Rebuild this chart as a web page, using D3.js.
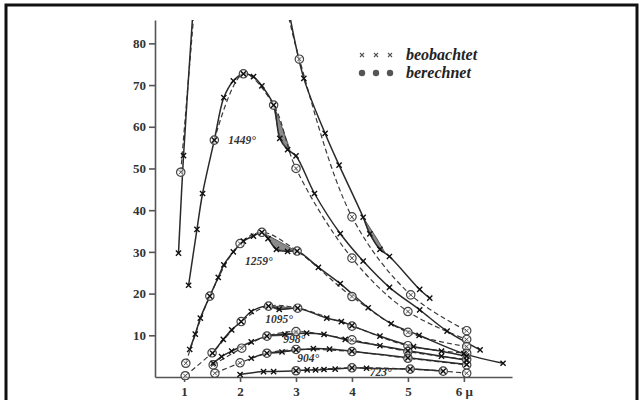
<!DOCTYPE html>
<html>
<head>
<meta charset="utf-8">
<script src="https://cdn.jsdelivr.net/npm/d3@7"></script>
<style>
  body { margin: 0; background: #fff; }
  svg { display: block; }
</style>
</head>
<body>
<div id="chart"></div>
<script>
// values: [wavelength (μ), intensity]
// beobachtet (solid lines, x marks)
var obs1646a = [[0.90, 29.7], [0.99, 53.1], [1.16, 88.0]];
var obs1646b = [[2.87, 88.0], [3.14, 71.6], [3.52, 58.4], [3.77, 50.8], [4.20, 38.3], [4.32, 34.3], [4.50, 30.6], [4.67, 28.9], [5.21, 21.0], [5.39, 18.9]];
var obs1449 = [[1.08, 22.0], [1.23, 35.4], [1.33, 44.0], [1.54, 56.8], [1.71, 67.0], [1.88, 71.0], [2.06, 72.7], [2.24, 72.0], [2.39, 69.8], [2.60, 65.2], [2.71, 57.2], [2.85, 54.5], [3.00, 53.0], [3.33, 44.0], [3.79, 34.4], [4.20, 27.8], [4.67, 21.5], [5.21, 16.1], [5.70, 11.0], [6.29, 6.5]];
var obs1259 = [[1.10, 6.6], [1.20, 10.3], [1.29, 14.1], [1.46, 19.4], [1.61, 23.9], [1.71, 26.9], [1.88, 30.0], [2.06, 32.6], [2.24, 33.8], [2.39, 34.7], [2.50, 33.2], [2.65, 30.6], [2.85, 30.1], [3.02, 30.2], [3.40, 26.3], [3.79, 22.4], [4.29, 16.6], [4.70, 12.8], [5.20, 10.0], [6.00, 5.6], [6.70, 3.3]];
var obs1095 = [[1.51, 5.7], [1.70, 9.0], [1.85, 11.3], [2.02, 13.3], [2.20, 15.7], [2.51, 17.0], [2.70, 16.2], [3.03, 16.5], [3.55, 14.1], [3.81, 13.3], [4.00, 12.3], [4.50, 9.8], [5.10, 7.3], [5.60, 6.2], [6.05, 5.0]];
var obs998 = [[1.52, 3.3], [1.67, 4.9], [1.85, 6.2], [2.20, 8.4], [2.48, 9.8], [2.80, 10.2], [3.19, 10.5], [3.50, 10.2], [3.88, 9.0], [4.50, 7.5], [5.00, 6.3], [5.60, 5.0], [6.05, 4.0]];
var obs904 = [[2.20, 4.5], [2.48, 5.7], [2.75, 6.0], [3.00, 6.5], [3.31, 6.8], [3.60, 6.7], [4.00, 6.2], [5.00, 4.6], [6.05, 3.0]];
var obs723 = [[2.00, 0.6], [2.42, 1.3], [2.60, 1.3], [3.00, 1.5], [3.20, 1.7], [3.35, 1.7], [3.50, 1.8], [3.70, 1.9], [4.00, 2.2], [4.26, 2.1], [5.04, 1.9], [5.63, 1.4]];

// berechnet (dashed lines, circles)
var calc1646a = [[0.94, 49.1], [1.18, 88.0]];
var calc1646b = [[2.84, 88.0], [3.06, 76.2], [4.00, 38.4], [5.05, 19.7], [6.05, 11.1]];
var calc1449 = [[1.54, 56.8], [2.06, 72.7], [2.60, 65.2], [3.00, 50.0], [4.00, 28.5], [5.00, 15.7], [6.05, 9.0]];
var calc1259 = [[1.03, 3.3], [1.46, 19.4], [2.00, 32.0], [2.39, 34.7], [3.02, 30.2], [4.00, 19.3], [5.00, 10.7], [6.05, 7.3]];
var calc1095 = [[1.02, 0.3], [1.50, 5.8], [2.02, 13.3], [2.51, 17.0], [3.03, 16.5], [4.00, 12.2], [5.00, 7.5], [6.05, 5.7]];
var calc998 = [[1.52, 2.9], [2.03, 6.9], [2.48, 9.8], [3.00, 10.9], [4.00, 8.9], [5.00, 6.1], [6.05, 4.2]];
var calc904 = [[1.55, 0.9], [2.00, 3.4], [2.48, 5.7], [3.00, 6.6], [4.00, 6.1], [5.00, 4.5], [6.05, 2.9]];
var calc723 = [[3.00, 1.5], [4.00, 2.2], [5.04, 1.9], [5.63, 1.4], [6.05, 0.9]];

// shaded absorption bands between the two curves
var band1646 = [[4.20, 38.3], [4.30, 34.6], [4.45, 31.4], [4.60, 29.6], [4.45, 33.1], [4.30, 36.2]];
var band1449 = [[2.60, 65.2], [2.68, 59.0], [2.75, 56.4], [2.90, 54.0], [2.85, 56.2], [2.72, 61.0]];
var band1259 = [[2.42, 34.5], [2.55, 32.2], [2.65, 30.6], [2.85, 30.1], [3.00, 30.2], [2.70, 32.5]];
var band1095 = [[2.51, 17.0], [2.70, 16.2], [2.95, 16.4], [2.75, 16.9]];
var band998 = [[2.48, 9.8], [2.70, 9.9], [2.95, 10.4], [2.75, 10.4]];
var band904 = [[2.48, 5.7], [2.70, 5.8], [2.90, 6.3], [2.70, 6.2]];

var xTicks = [1, 2, 3, 4, 5, 6];
var xTickLabels = ["1", "2", "3", "4", "5", "6 μ"];
var yTicks = [10, 20, 30, 40, 50, 60, 70, 80];
var curveLabels = ["1449°", "1259°", "1095°", "998°", "904°", "723°"];
var legendLabels = ["beobachtet", "berechnet"];

var svgWidth = 641;
var svgHeight = 400;

var svg = d3.select("#chart")
  .append("svg")
  .attr("width", svgWidth)
  .attr("height", svgHeight);

// black frame of the scan
svg.append("rect")
  .attr("x", 6).attr("y", 5)
  .attr("width", 631).attr("height", 400)
  .attr("fill", "none")
  .attr("stroke", "#111")
  .attr("stroke-width", 3);

var x = d3.scaleLinear().domain([0.48, 6.86]).range([155, 512]);
var y = d3.scaleLinear().domain([0, 85.6]).range([377, 20]);

svg.append("clipPath").attr("id", "plot")
  .append("rect")
  .attr("x", 150).attr("y", 20)
  .attr("width", 380).attr("height", 360);

var ink = "#2a2a2a";
var serif = "'Liberation Serif', 'DejaVu Serif', serif";

// axes
var bottomAxis = d3.axisBottom(x)
  .tickValues(xTicks)
  .tickSize(5)
  .tickSizeOuter(0)
  .tickPadding(3)
  .tickFormat((d, i) => xTickLabels[i]);

var leftAxis = d3.axisLeft(y)
  .tickValues(yTicks)
  .tickSize(6)
  .tickSizeOuter(0)
  .tickPadding(3);

var gx = svg.append("g")
  .attr("transform", "translate(0,377)")
  .call(bottomAxis);

var gy = svg.append("g")
  .attr("transform", "translate(155,0)")
  .call(leftAxis);

[gx, gy].forEach(function(g) {
  g.selectAll("path, line").attr("stroke", "#555").attr("stroke-width", 1.6);
  g.selectAll("text")
    .attr("fill", "#333")
    .attr("font-family", serif)
    .attr("font-weight", "bold")
    .attr("font-size", 13);
});
gx.selectAll("text").attr("dy", "0.85em");

var line = d3.line()
  .x(d => x(d[0]))
  .y(d => y(d[1]))
  .curve(d3.curveCatmullRom.alpha(0.5));

var plot = svg.append("g").attr("clip-path", "url(#plot)");

// shaded bands
[band1646, band1449, band1259, band1095, band998, band904].forEach(function(b) {
  plot.append("path")
    .attr("d", d3.line().x(d => x(d[0])).y(d => y(d[1])).curve(d3.curveLinearClosed)(b))
    .attr("fill", "#8a8a8a")
    .attr("stroke", "#444")
    .attr("stroke-width", 0.8);
});

var calcSeries = [calc1646a, calc1646b, calc1449, calc1259, calc1095, calc998, calc904, calc723];
var obsSeries = [obs1646a, obs1646b, obs1449, obs1259, obs1095, obs998, obs904, obs723];

calcSeries.forEach(function(s) {
  plot.append("path")
    .attr("d", line(s))
    .attr("fill", "none")
    .attr("stroke", "#3a3a3a")
    .attr("stroke-width", 1.2)
    .attr("stroke-dasharray", "5,3");
});

obsSeries.forEach(function(s) {
  plot.append("path")
    .attr("d", line(s))
    .attr("fill", "none")
    .attr("stroke", ink)
    .attr("stroke-width", 1.5);
});

function inView(d) { return d[1] <= 85.6; }

// circles for computed values
calcSeries.forEach(function(s) {
  var g = plot.selectAll(null)
    .data(s.filter(inView))
    .enter()
    .append("g")
    .attr("transform", d => `translate(${x(d[0])},${y(d[1])})`);
  g.append("circle")
    .attr("r", 4.2)
    .attr("fill", "#fff")
    .attr("fill-opacity", 0.6)
    .attr("stroke", "#444")
    .attr("stroke-width", 1.2);
  g.append("path")
    .attr("d", "M-2,-2L2,2M-2,2L2,-2")
    .attr("stroke", "#555")
    .attr("stroke-width", 1);
});

// crosses for observed values
obsSeries.forEach(function(s) {
  plot.selectAll(null)
    .data(s.filter(inView))
    .enter()
    .append("path")
    .attr("transform", d => `translate(${x(d[0])},${y(d[1])})`)
    .attr("d", "M-2.6,-2.6L2.6,2.6M-2.6,2.6L2.6,-2.6")
    .attr("stroke", "#111")
    .attr("stroke-width", 1.4);
});

// temperature labels
var labelAt = [[1.79, 55.9], [2.09, 26.9], [2.45, 12.9], [2.77, 8.2], [3.02, 3.6], [4.32, 0.3]];
svg.selectAll(".tlabel")
  .data(curveLabels)
  .enter()
  .append("text")
  .attr("class", "tlabel")
  .attr("x", (d, i) => x(labelAt[i][0]))
  .attr("y", (d, i) => y(labelAt[i][1]))
  .attr("font-family", serif)
  .attr("font-style", "italic")
  .attr("font-weight", "bold")
  .attr("font-size", 11.5)
  .attr("fill", "#333")
  .text(d => d);

// legend
var legend = svg.append("g");
[0, 1, 2].forEach(function(k) {
  legend.append("path")
    .attr("transform", `translate(${362 + k * 14},55)`)
    .attr("d", "M-2,-2L2,2M-2,2L2,-2")
    .attr("stroke", "#555")
    .attr("stroke-width", 1.1);
  legend.append("circle")
    .attr("cx", 362 + k * 14).attr("cy", 73)
    .attr("r", 3.2)
    .attr("fill", "#555");
});
legend.selectAll("text")
  .data(legendLabels)
  .enter()
  .append("text")
  .attr("x", 406)
  .attr("y", (d, i) => 60 + i * 18)
  .attr("font-family", serif)
  .attr("font-style", "italic")
  .attr("font-weight", "bold")
  .attr("font-size", 16)
  .attr("fill", "#222")
  .text(d => d);
</script>
</body>
</html>
